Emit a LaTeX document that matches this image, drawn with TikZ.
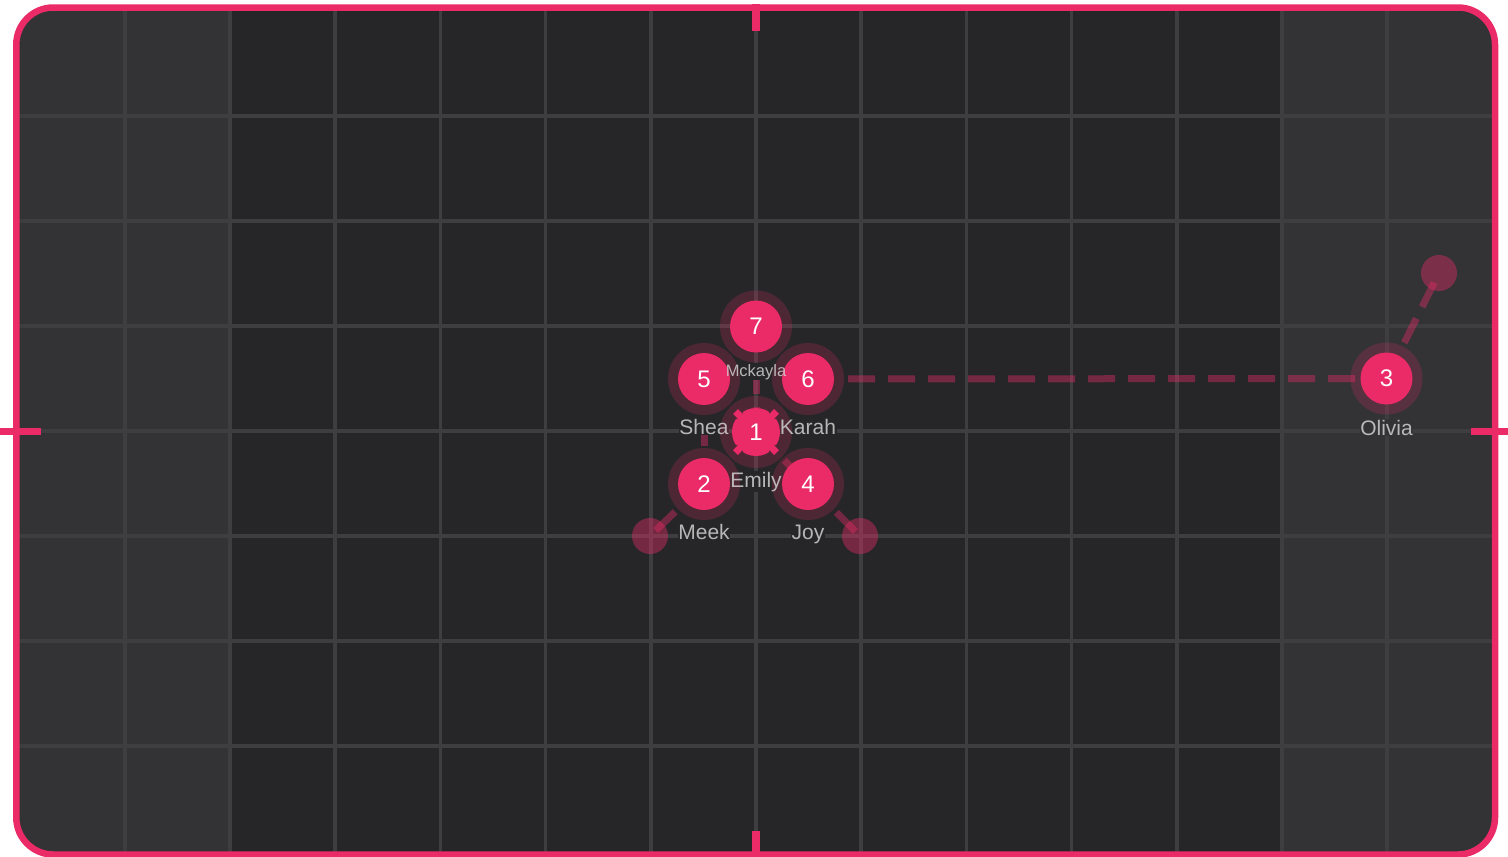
\documentclass[tikz,border=0pt]{standalone}
\usepackage{fontspec}
\setmainfont{Liberation Sans}
\definecolor{pk}{HTML}{EA2B67}
\definecolor{bgd}{HTML}{262628}
\definecolor{bgl}{HTML}{333335}
\definecolor{gridc}{HTML}{3E3E40}
\definecolor{lblc}{HTML}{D0D0D0}
\definecolor{notchc}{HTML}{5A2438}
\begin{document}
\begin{tikzpicture}[x=1pt,y=-1pt,
  halo/.style={circle, fill=pk, fill opacity=.2, minimum size=72pt, inner sep=0pt},
  disc/.style={circle, fill=pk, minimum size=52pt, inner sep=0pt, text=white, font=\fontsize{24}{24}\selectfont},
  freedot/.style={circle, fill=pk, fill opacity=.4, minimum size=36pt, inner sep=0pt},
  edge/.style={draw=pk, draw opacity=.4, line width=7pt, dash pattern=on 27pt off 13pt, shorten <=40pt},
  lblbase/.style={inner xsep=0.5pt, inner ysep=1pt, anchor=base, font=\fontsize{21}{21}\selectfont},
  lblbg/.style={lblbase, fill=bgd, text opacity=0},
  lbltxt/.style={lblbase, text=lblc, text opacity=.85},
  small/.style={font=\fontsize{16.5}{16.5}\selectfont},
  gridline/.style={draw=gridc, line width=3.5pt},
  tickmark/.style={draw=pk, line width=7.5pt}
]
\fill[white] (0,0) rectangle (1508,857);
\useasboundingbox (0,0) rectangle (1508,857);
% background and grid
\begin{scope}
  \clip[rounded corners=37pt] (16.3,7.5) rectangle (1495,854.5);
  \fill[bgl] (0,0) rectangle (1508,857);
  \fill[bgd] (230,0) rectangle (1282,857);
  \foreach \k in {-6,...,6} \draw[gridline] ({756+105.2*\k},0) -- ({756+105.2*\k},857);
  \foreach \k in {-3,...,3} \draw[gridline] (0,{431+105*\k}) -- (1508,{431+105*\k});
\end{scope}
% positions
\coordinate (p7) at (756,326.5);
\coordinate (p5) at (704,379);
\coordinate (p6) at (808,379);
\coordinate (p1) at (756,432);
\coordinate (p2) at (704,484);
\coordinate (p4) at (808,484);
\coordinate (p3) at (1386.5,378.5);
\coordinate (q2) at (650,536);
\coordinate (q4) at (860,536);
\coordinate (q3) at (1439,273);
% label anchors
\coordinate (a7) at (756,376);
\coordinate (a5) at (704,434);
\coordinate (a6) at (808,434);
\coordinate (a1) at (756,487);
\coordinate (a2) at (704,539);
\coordinate (a4) at (808,539);
\coordinate (a3) at (1386.5,435);
% free dots
\node[freedot] (f2) at (q2) {};
\node[freedot] (f4) at (q4) {};
\node[freedot] (f3) at (q3) {};
% edges
\draw[edge] (p7) -- (p1);
\draw[edge] (p5) -- (p2);
\draw[edge] (p1) -- (p4);
\draw[edge] (p6) -- (p3);
\draw[edge] (p3) -- (q3);
\draw[edge] (p2) -- (q2);
\draw[edge] (p4) -- (q4);
% label backgrounds
\node[lblbg, small] (b7) at (a7) {Mckayla};
\node[lblbg] (b5) at (a5) {Shea};
\node[lblbg] (b6) at (a6) {Karah};
\node[lblbg] (b1) at (a1) {Emily};
\node[lblbg] (b2) at (a2) {Meek};
\node[lblbg] (b4) at (a4) {Joy};
\node[lblbg, fill=bgl] (b3) at (a3) {Olivia};
% halos
\foreach \p in {p7,p5,p6,p1,p2,p4,p3} \node[halo] (h\p) at (\p) {};
% discs
\node[disc] (n7) at (p7) {7};
\node[disc] (n5) at (p5) {5};
\node[disc] (n6) at (p6) {6};
\node[disc] (n2) at (p2) {2};
\node[disc] (n4) at (p4) {4};
\node[disc] (n3) at (p3) {3};
\node[disc, minimum size=48pt] (n1) at (p1) {1};
\foreach \a in {45,135,225,315} {
  \begin{scope}[shift={(p1)}, rotate=\a]
    \fill[pk] (20,-3.6) rectangle (29,3.6);
    \draw[notchc, line width=0.9pt] (22.5,-4) -- (29.5,-4) (22.5,4) -- (29.5,4);
  \end{scope}
}
% label texts
\node[lbltxt, small] (l7) at (a7) {Mckayla};
\node[lbltxt] (l5) at (a5) {Shea};
\node[lbltxt] (l6) at (a6) {Karah};
\node[lbltxt] (l1) at (a1) {Emily};
\node[lbltxt] (l2) at (a2) {Meek};
\node[lbltxt] (l4) at (a4) {Joy};
\node[lbltxt] (l3) at (a3) {Olivia};
% border and ticks
\draw[pk, line width=6.5pt, rounded corners=37pt] (16.3,7.5) rectangle (1495,854.5);
\draw[tickmark] (0,431.3) -- (41,431.3);
\draw[tickmark] (1471,431.3) -- (1508,431.3);
\draw[tickmark] (756,4) -- (756,31);
\draw[tickmark] (756,831) -- (756,857);
\end{tikzpicture}
\end{document}
